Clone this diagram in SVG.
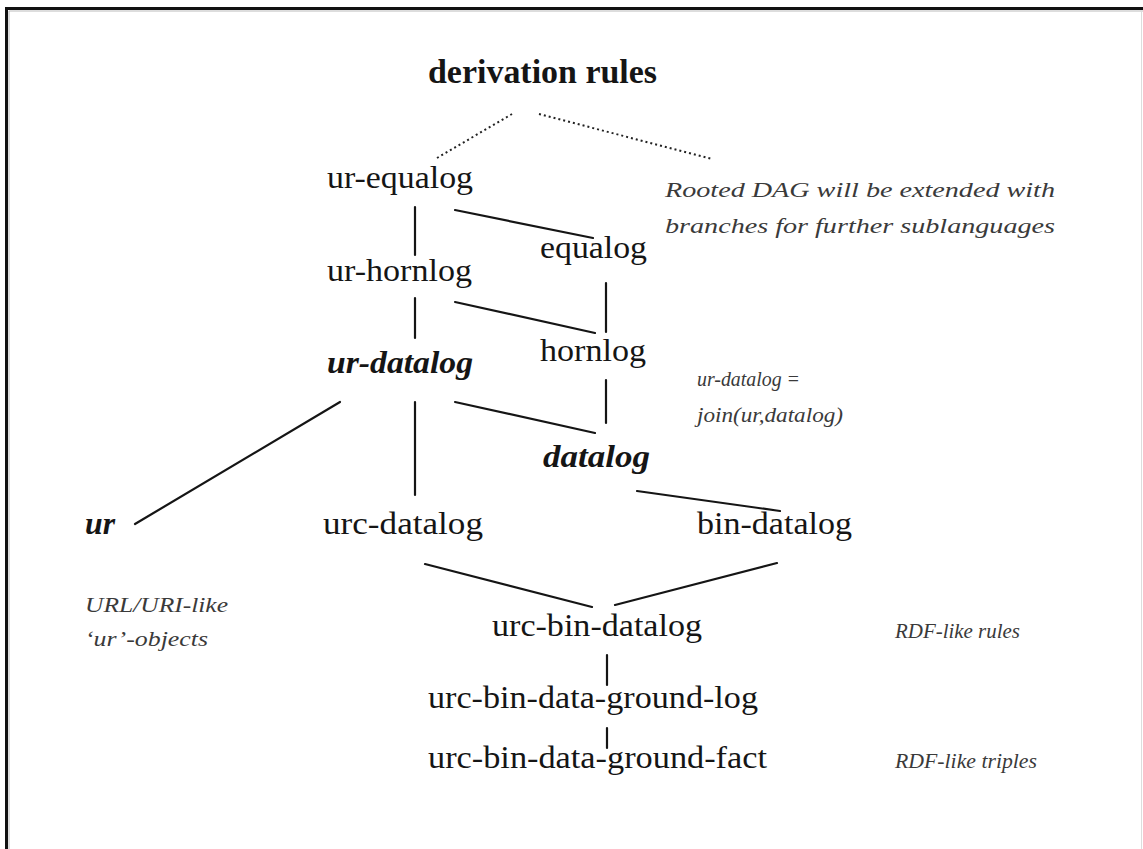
<svg xmlns="http://www.w3.org/2000/svg" width="1143" height="849" viewBox="0 0 1143 849">
  <style>
    text { font-family: "Liberation Serif", "Times New Roman", serif; }
    .node { font-size: 32px; fill: #151515; }
    .bi { font-weight: bold; font-style: italic; }
    .title { font-size: 33px; font-weight: bold; fill: #151515; }
    .note { font-size: 22px; font-style: italic; fill: #3a3a3a; }
    .edge { stroke: #151515; stroke-width: 2.2; fill: none; stroke-linecap: round; }
    .dot { stroke: #222; stroke-width: 2; fill: none; stroke-dasharray: 2 3; }
  </style>

  <!-- page frame -->
  <rect x="0" y="0" width="1143" height="849" fill="#ffffff"/>
  <path d="M6.5 849 V8.5 H1143" fill="none" stroke="#111" stroke-width="3"/>
  <path d="M9 849 V11 H1143" fill="none" stroke="#bbb" stroke-width="1"/>
  <line x1="1141.5" y1="11" x2="1141.5" y2="849" stroke="#ddd" stroke-width="1"/>

  <!-- connectors -->
  <g id="connectors">
    <line class="dot" x1="437" y1="158" x2="512" y2="114"/>
    <line class="dot" x1="539" y1="114" x2="712" y2="159"/>
    <line class="edge" x1="415" y1="207" x2="415" y2="255"/>
    <line class="edge" x1="455" y1="210" x2="593" y2="238"/>
    <line class="edge" x1="606" y1="283" x2="606" y2="332"/>
    <line class="edge" x1="415" y1="298" x2="415" y2="338"/>
    <line class="edge" x1="455" y1="302" x2="595" y2="333"/>
    <line class="edge" x1="606" y1="380" x2="606" y2="423"/>
    <line class="edge" x1="415" y1="402" x2="415" y2="495"/>
    <line class="edge" x1="455" y1="402" x2="595" y2="433" stroke-width="3"/>
    <line class="edge" x1="340" y1="402" x2="135" y2="524" stroke-width="2.6"/>
    <line class="edge" x1="637" y1="491" x2="780" y2="511"/>
    <line class="edge" x1="425" y1="564" x2="592" y2="607"/>
    <line class="edge" x1="615" y1="605" x2="777" y2="563"/>
    <line class="edge" x1="607" y1="655" x2="607" y2="685"/>
    <line class="edge" x1="607" y1="728" x2="607" y2="748"/>
  </g>

  <!-- nodes -->
  <g id="root"><text class="title" x="428" y="83" textLength="229" lengthAdjust="spacingAndGlyphs">derivation rules</text></g>
  <g id="ur-equalog"><text class="node" x="327" y="188" textLength="146" lengthAdjust="spacingAndGlyphs">ur-equalog</text></g>
  <g id="equalog"><text class="node" x="540" y="258" textLength="107" lengthAdjust="spacingAndGlyphs">equalog</text></g>
  <g id="ur-hornlog"><text class="node" x="327" y="281" textLength="145" lengthAdjust="spacingAndGlyphs">ur-hornlog</text></g>
  <g id="hornlog"><text class="node" x="540" y="361" textLength="106" lengthAdjust="spacingAndGlyphs">hornlog</text></g>
  <g id="ur-datalog"><text class="node bi" x="327" y="373" textLength="146" lengthAdjust="spacingAndGlyphs">ur-datalog</text></g>
  <g id="datalog"><text class="node bi" x="543" y="467" textLength="107" lengthAdjust="spacingAndGlyphs">datalog</text></g>
  <g id="ur"><text class="node bi" x="85" y="534" textLength="30" lengthAdjust="spacingAndGlyphs">ur</text></g>
  <g id="urc-datalog"><text class="node" x="323" y="534" textLength="160" lengthAdjust="spacingAndGlyphs">urc-datalog</text></g>
  <g id="bin-datalog"><text class="node" x="697" y="534" textLength="155" lengthAdjust="spacingAndGlyphs">bin-datalog</text></g>
  <g id="urc-bin-datalog"><text class="node" x="492" y="636" textLength="210" lengthAdjust="spacingAndGlyphs">urc-bin-datalog</text></g>
  <g id="urc-bin-data-ground-log"><text class="node" x="428" y="708" textLength="330" lengthAdjust="spacingAndGlyphs">urc-bin-data-ground-log</text></g>
  <g id="urc-bin-data-ground-fact"><text class="node" x="428" y="768" textLength="339" lengthAdjust="spacingAndGlyphs">urc-bin-data-ground-fact</text></g>

  <!-- annotations -->
  <g id="notes">
    <text class="note" x="665" y="197" textLength="390" lengthAdjust="spacingAndGlyphs">Rooted DAG will be extended with</text>
    <text class="note" x="665" y="233" textLength="390" lengthAdjust="spacingAndGlyphs">branches for further sublanguages</text>
    <text class="note" x="697" y="386" textLength="103" lengthAdjust="spacingAndGlyphs">ur-datalog =</text>
    <text class="note" x="697" y="422" textLength="146" lengthAdjust="spacingAndGlyphs">join(ur,datalog)</text>
    <text class="note" x="85" y="612" textLength="143" lengthAdjust="spacingAndGlyphs">URL/URI-like</text>
    <text class="note" x="85" y="646" textLength="123" lengthAdjust="spacingAndGlyphs">‘ur’-objects</text>
    <text class="note" x="895" y="638" textLength="125" lengthAdjust="spacingAndGlyphs">RDF-like rules</text>
    <text class="note" x="895" y="768" textLength="142" lengthAdjust="spacingAndGlyphs">RDF-like triples</text>
  </g>
</svg>
